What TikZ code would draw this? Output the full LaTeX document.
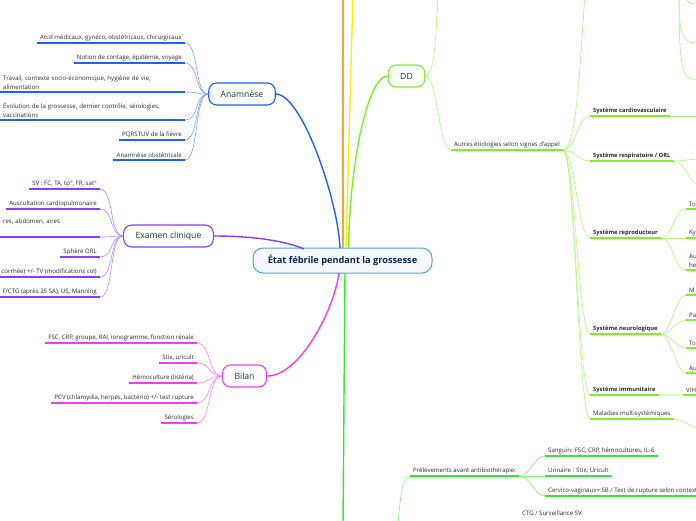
\documentclass[tikz,border=0pt]{standalone}
\usepackage{fontspec}
\setmainfont{Open Sans}
\usepackage{xcolor}
\usepackage{tikz}
\usetikzlibrary{positioning,calc}
\definecolor{rootblue}{HTML}{4FA3E0}
\definecolor{rootfill}{HTML}{F6FAFE}
\definecolor{rootnavy}{HTML}{0B2452}
\definecolor{topictext}{HTML}{0D4433}
\definecolor{leaftext}{HTML}{2A2A2A}
\definecolor{anablue}{HTML}{2060FF}
\definecolor{exapurple}{HTML}{8A3CFF}
\definecolor{bilmag}{HTML}{F23CF2}
\definecolor{ddlime}{HTML}{84EE2C}
\definecolor{botgreen}{HTML}{36E836}
\definecolor{brorange}{HTML}{FFA21E}
\definecolor{bryellow}{HTML}{F8EE10}

\begin{document}
\begin{tikzpicture}[
    x=1pt, y=-1pt,
    root/.style={draw=rootblue, line width=1pt, fill=rootfill, rounded corners=10pt, minimum width=179pt, minimum height=25pt, text=rootnavy, font=\bfseries\fontsize{9.2}{11}\selectfont},
    topic/.style={draw, line width=1.1pt, fill=white, rounded corners=8pt, minimum height=22pt, inner xsep=12pt, text=topictext, font=\fontsize{8.6}{10}\selectfont},
    leaf/.style={inner xsep=3pt, inner ysep=2.2pt, text=leaftext, align=left, font=\fontsize{6.1}{8.6}\selectfont},
    sys/.style={leaf, font=\bfseries\fontsize{5.8}{8.6}\selectfont},
    branch/.style={line width=1.4pt},
    ul/.style={line width=1.7pt},
    lnk/.style={line width=0.6pt}
]
    \useasboundingbox (0,0) rectangle (696,520);
    \clip (0,0) rectangle (696,520);

    % free ends of branches leaving the picture
    \coordinate (offO) at (343,-5);
    \coordinate (offY) at (353,-5);
    \coordinate (offDD) at (438,-5);
    \coordinate (offAu) at (585,-5);
    \coordinate (offBot) at (343,525);
    \coordinate (offPre) at (398,525);
    \coordinate (offT1) at (679,-5);
    \coordinate (offT2) at (685,-5);

    % central topic and main branches
    \node[root] (root) at (342.5,260.5) {État fébrile pendant la grossesse};
    \node[topic, draw=anablue] (ana) at (242,94) {Anamnèse};
    \node[topic, draw=exapurple] (exa) at (168.5,236) {Examen clinique};
    \node[topic, draw=bilmag] (bil) at (244.5,376) {Bilan};
    \node[topic, draw=ddlime] (dd) at (406.5,76) {DD};

    \draw[branch, brorange] (offO) -- (343,248);
    \draw[branch, bryellow] (offY) -- (346,248);
    \draw[branch, anablue] (ana.east) .. controls (302,94) and (338,200) .. (340,248);
    \draw[branch, ddlime] (dd.west) .. controls (368,76) and (350,160) .. (348.5,248);
    \draw[branch, exapurple] (exa.east) .. controls (262,236) and (290,243) .. (304,249);
    \draw[branch, bilmag] (bil.east) .. controls (300,376) and (334,310) .. (339,273);
    \draw[branch, botgreen] (345,273) -- (offBot);

    % Anamnese
    \node[leaf, anchor=south east] (a1) at (185,43) {Atcd médicaux, gynéco, obstétricaux, chirurgicaux};
    \node[leaf, anchor=south east] (a2) at (185,63) {Notion de contage, épidémie, voyage};
    \node[leaf, anchor=south west, text width=179pt] (a3) at (0,92) {Travail, contexte socio-économique, hygiène de vie,\\alimentation};
    \node[leaf, anchor=south west, text width=179pt] (a4) at (0,120) {Évolution de la grossesse, dernier contrôle, sérologies,\\vaccinations};
    \node[leaf, anchor=south east] (a5) at (185,140) {PQRSTUV de la fièvre};
    \node[leaf, anchor=south east] (a6) at (185,160) {Anamnèse obstétricale};
    \foreach \n in {a1,a2,a3,a4,a5,a6} {
        \draw[ul, anablue] (\n.south west) -- (\n.south east);
        \draw[lnk, anablue!60] (ana.west) .. controls +(-14,0) and +(14,0) .. (\n.south east);
    }

    % Examen clinique
    \node[leaf, anchor=south east] (e1) at (100,189) {SV : FC, TA, tp°, FR, sat°};
    \node[leaf, anchor=south east] (e2) at (100,209) {Auscultation cardiopulmonaire};
    \node[leaf, anchor=south west, text width=94pt] (e3) at (0,237) {res, abdomen, aires\\\strut};
    \node[leaf, anchor=south east] (e4) at (100,257) {Sphère ORL};
    \node[leaf, anchor=south east] (e5) at (100,277) {corrhée) +/- TV (modifications col)};
    \node[leaf, anchor=south east] (e6) at (100,297) {F/CTG (après 25 SA), US, Manning};
    \foreach \n in {e1,e2,e3,e4,e5,e6} {
        \draw[ul, exapurple] (\n.south west) -- (\n.south east);
        \draw[lnk, exapurple!60] (exa.west) .. controls +(-14,0) and +(14,0) .. (\n.south east);
    }

    % Bilan
    \node[leaf, anchor=south east] (b1) at (197,343) {FSC, CRP, groupe, RAI, ionogramme, fonction rénale};
    \node[leaf, anchor=south east] (b2) at (197,363) {Stix, uricult};
    \node[leaf, anchor=south east] (b3) at (197,383) {Hémoculture (listéria)};
    \node[leaf, anchor=south east] (b4) at (197,403) {PCV (chlamydia, herpès, bactério) +/- test rupture};
    \node[leaf, anchor=south east] (b5) at (197,423) {Sérologies};
    \foreach \n in {b1,b2,b3,b4,b5} {
        \draw[ul, bilmag] (\n.south west) -- (\n.south east);
        \draw[lnk, bilmag!60] (bil.west) .. controls +(-14,0) and +(14,0) .. (\n.south east);
    }

    % DD
    \node[leaf, anchor=south west] (au) at (451,150) {Autres étiologies selon signes d'appel};
    \draw[ul, ddlime] (au.south west) -- (au.south east);
    \draw[lnk, ddlime!60] (dd.east) .. controls +(10,0) and (436,30) .. (offDD);
    \draw[lnk, ddlime!60] (dd.east) .. controls +(12,0) and +(-12,0) .. (au.south west);
    \draw[lnk, ddlime!60] (au.south east) .. controls +(14,0) and (580,60) .. (offAu);

    \node[sys, anchor=south west] (cv) at (590,116) {Système cardiovasculaire};
    \node[sys, anchor=south west] (resp) at (590,161) {Système respiratoire / ORL};
    \node[sys, anchor=south west] (repro) at (590,238) {Système reproducteur};
    \node[sys, anchor=south west] (neuro) at (590,334) {Système neurologique};
    \node[sys, anchor=south west] (immu) at (590,395) {Système immunitaire};
    \node[leaf, anchor=south west] (multi) at (590,419) {Maladies multisystémiques};
    \foreach \n in {cv,resp,repro,neuro,immu,multi} {
        \draw[ul, ddlime] (\n.south west) -- (\n.south east);
        \draw[lnk, ddlime!60] (au.south east) .. controls +(12,0) and +(-12,0) .. (\n.south west);
    }

    % cut-off children on the right edge
    \coordinate (cvX) at (700,116);
    \coordinate (respX1) at (700,159);
    \coordinate (respX2) at (700,184);
    \coordinate (multiX) at (700,428);
    \coordinate (topX1) at (700,43);
    \coordinate (topX2) at (700,80);
    \coordinate (topX3) at (700,4);
    \draw[lnk, ddlime!60] (cv.south east) -- (cvX);
    \draw[lnk, ddlime!60] (resp.south east) .. controls +(10,0) and +(-10,0) .. (respX1);
    \draw[lnk, ddlime!60] (resp.south east) .. controls +(12,0) and +(-12,0) .. (respX2);
    \draw[lnk, ddlime!60] (multi.south east) .. controls +(10,0) and +(-10,0) .. (multiX);
    \draw[lnk, ddlime!60] (offT1) .. controls (679,40) and (683,43) .. (topX1);
    \draw[lnk, ddlime!60] (offT1) .. controls (679,78) and (683,80) .. (topX2);
    \draw[lnk, ddlime!60] (offT2) .. controls (686,3) and (690,4) .. (topX3);

    \node[leaf, anchor=south west] (r1) at (686,209) {To};
    \node[leaf, anchor=south west] (r2) at (686,238) {Ky};
    \node[leaf, anchor=south west] (r3) at (686,270) {Au\\he};
    \foreach \n in {r1,r2,r3} {
        \draw[ul, ddlime] (\n.south west) -- ++(20,0);
        \draw[lnk, ddlime!60] (repro.south east) .. controls +(12,0) and +(-12,0) .. (\n.south west);
    }
    \node[leaf, anchor=south west] (n1) at (686,295) {M};
    \node[leaf, anchor=south west] (n2) at (686,320) {Pa};
    \node[leaf, anchor=south west] (n3) at (686,348) {To};
    \node[leaf, anchor=south west] (n4) at (686,373) {Au};
    \foreach \n in {n1,n2,n3,n4} {
        \draw[ul, ddlime] (\n.south west) -- ++(20,0);
        \draw[lnk, ddlime!60] (neuro.south east) .. controls +(10,0) and +(-10,0) .. (\n.south west);
    }
    \node[leaf, anchor=south west] (vih) at (683,395) {VIH};
    \draw[ul, ddlime] (vih.south west) -- ++(20,0);
    \draw[ul, ddlime!30] (immu.south east) -- (vih.south west);

    % bottom green branch
    \node[leaf, anchor=south west] (pre) at (410,476) {Prélèvements avant antibiothérapie:};
    \draw[ul, botgreen] (pre.south west) -- (pre.south east);
    \draw[lnk, botgreen!60] (pre.south west) .. controls +(-8,0) and (400,500) .. (offPre);
    \node[leaf, anchor=south west] (p1) at (545,456) {Sanguin: FSC, CRP, hémocultures, IL-6};
    \node[leaf, anchor=south west] (p2) at (545,476) {Urinaire : Stix, Uricult};
    \node[leaf, anchor=south west] (p3) at (545,496) {Cervico-vaginaux= SB / Test de rupture selon contexte};
    \foreach \n in {p1,p2,p3} {
        \draw[ul, botgreen] (\n.south west) -- (\n.south east);
        \draw[lnk, botgreen!60] (pre.south east) .. controls +(12,0) and +(-12,0) .. (\n.south west);
    }
    \node[leaf, anchor=west] (ctg) at (519,513) {CTG / Surveillance SV};
\end{tikzpicture}
\end{document}
